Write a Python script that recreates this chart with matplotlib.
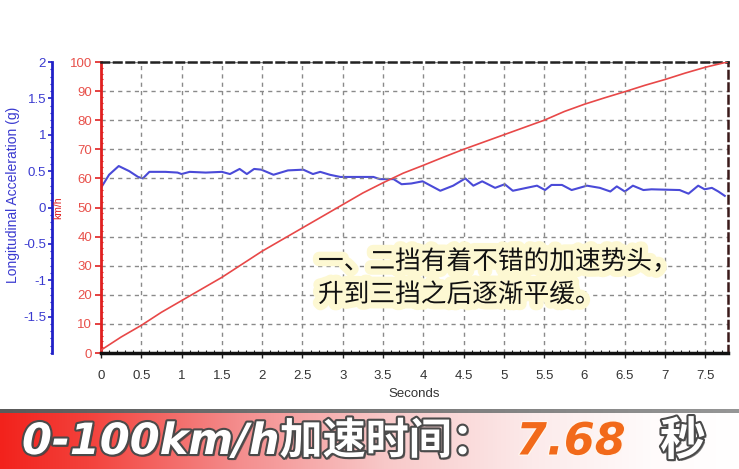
import numpy as np
import matplotlib
matplotlib.use("Agg")
import matplotlib.pyplot as plt
from matplotlib.ticker import MultipleLocator
import matplotlib.patheffects as pe

# ---------------- data ----------------
speed_t = [0.0, 0.25, 0.5, 0.75, 1.0, 1.25, 1.5, 1.75, 2.0, 2.25, 2.5, 2.75, 3.0,
           3.25, 3.5, 3.75, 4.0, 4.25, 4.5, 4.75, 5.0, 5.25, 5.5, 5.75, 6.0,
           6.25, 6.5, 6.75, 7.0, 7.25, 7.5, 7.77]
speed_kmh = [1.0, 5.5, 9.5, 14.0, 18.0, 22.0, 26.0, 30.5, 35.0, 39.0, 43.0, 47.0, 51.0,
             55.0, 58.5, 61.8, 64.5, 67.3, 70.0, 72.5, 75.0, 77.5, 80.0, 83.0, 85.5,
             87.7, 89.8, 92.0, 94.0, 96.2, 98.2, 100.0]

acc_t = [0.0, 0.1, 0.22, 0.35, 0.46, 0.52, 0.6, 0.8, 0.95, 1.0, 1.1, 1.3, 1.5, 1.6,
         1.72, 1.81, 1.9, 1.99, 2.14, 2.32, 2.51, 2.63, 2.72, 2.84, 2.97, 3.2, 3.38,
         3.46, 3.63, 3.73, 3.85, 3.99, 4.21, 4.37, 4.52, 4.62, 4.73, 4.89, 5.01, 5.11,
         5.28, 5.41, 5.51, 5.59, 5.72, 5.84, 6.03, 6.19, 6.32, 6.40, 6.50, 6.60, 6.73,
         6.83, 7.18, 7.29, 7.41, 7.49, 7.58, 7.66, 7.74]
acc_g = [0.27, 0.45, 0.57, 0.50, 0.42, 0.40, 0.49, 0.49, 0.48, 0.46, 0.49, 0.48, 0.49,
         0.46, 0.53, 0.46, 0.53, 0.52, 0.45, 0.51, 0.52, 0.46, 0.49, 0.45, 0.42, 0.42,
         0.42, 0.39, 0.39, 0.32, 0.33, 0.36, 0.23, 0.30, 0.40, 0.30, 0.36, 0.27, 0.32,
         0.23, 0.27, 0.30, 0.24, 0.31, 0.31, 0.24, 0.30, 0.27, 0.22, 0.29, 0.22, 0.30,
         0.24, 0.25, 0.24, 0.19, 0.30, 0.25, 0.27, 0.22, 0.16]

x_ticks = [0, 0.5, 1, 1.5, 2, 2.5, 3, 3.5, 4, 4.5, 5, 5.5, 6, 6.5, 7, 7.5]
x_ticklabels = ["0", "0.5", "1", "1.5", "2", "2.5", "3", "3.5", "4", "4.5",
                "5", "5.5", "6", "6.5", "7", "7.5"]
speed_ticks = [0, 10, 20, 30, 40, 50, 60, 70, 80, 90, 100]
acc_ticks = [-1.5, -1, -0.5, 0, 0.5, 1, 1.5, 2]
acc_ticklabels = ["-1.5", "-1", "-0.5", "0", "0.5", "1", "1.5", "2"]

note_lines = ["一、二挡有着不错的加速势头，", "升到三挡之后逐渐平缓。"]
banner_main = "0-100km/h加速时间："
banner_value = "7.68"
banner_unit = "秒"

# ---------------- figure ----------------
W, H = 739, 469
PX = 0.72  # points per pixel at 100 dpi
fig = plt.figure(figsize=(W / 100, H / 100), dpi=100)
fig.patch.set_facecolor("white")

L, R, T, B = 101, 728, 62, 353
ax = fig.add_axes([L / W, 1 - B / H, (R - L) / W, (B - T) / H])

RED = "#e02020"
REDTXT = "#e8504a"
BLUE = "#2020c8"
BLUELINE = "#4a4ad8"

ax.plot(speed_t, speed_kmh, color="#e84848", lw=1.2, zorder=5)
ax.set_xlim(0, 7.78)
ax.set_ylim(0, 100)
ax.set_xticks(x_ticks)
ax.set_xticklabels(x_ticklabels)
ax.set_yticks(speed_ticks)
ax.xaxis.set_minor_locator(MultipleLocator(0.1))
ax.grid(True, which="major", color="#8a8a8a", linestyle=(0, (3, 3)), lw=1.0)
ax.tick_params(axis="x", which="major", direction="out", length=5 * PX, width=1,
               colors="#222222", labelsize=9.5, pad=12 * PX, labelcolor="#333333")
ax.tick_params(axis="x", which="minor", direction="in", length=3 * PX, width=0.8,
               colors="#222222")
ax.tick_params(axis="y", which="major", direction="out", length=6 * PX, width=1.2,
               colors=RED, labelsize=9.5, pad=3 * PX, labelcolor=REDTXT)
ax.yaxis.set_minor_locator(MultipleLocator(2))
ax.tick_params(axis="y", which="minor", direction="in", length=2 * PX, width=0.8, colors=RED)
ax.spines["left"].set_color(RED)
ax.spines["left"].set_linewidth(2)
ax.spines["bottom"].set_color("#111111")
ax.spines["bottom"].set_linewidth(2.5)
ax.spines["top"].set_color("#222222")
ax.spines["top"].set_linewidth(1.8)
ax.spines["top"].set_linestyle((0, (3, 2)))
ax.spines["right"].set_color("#3a1a1a")
ax.spines["right"].set_linewidth(1.8)
ax.spines["right"].set_linestyle((0, (3, 2)))
ax.set_xlabel("Seconds", fontsize=9.5, color="#333333", labelpad=4)
for lab in ax.get_xticklabels() + ax.get_yticklabels():
    lab.set_family("Liberation Sans")
ax.xaxis.label.set_family("Liberation Sans")

# acceleration axis on the far left
ax2 = ax.twinx()
ax2.plot(acc_t, acc_g, color=BLUELINE, lw=1.5, zorder=4)
ax2.set_ylim(-2, 2)
ax2.yaxis.set_ticks_position("left")
ax2.yaxis.set_label_position("left")
ax2.spines["left"].set_position(("outward", 49 * PX))
ax2.spines["left"].set_color(BLUE)
ax2.spines["left"].set_linewidth(2)
for s in ["right", "top", "bottom"]:
    ax2.spines[s].set_visible(False)
ax2.set_yticks(acc_ticks)
ax2.set_yticklabels(acc_ticklabels)
ax2.yaxis.set_minor_locator(MultipleLocator(0.1))
ax2.tick_params(axis="y", which="major", direction="out", length=4 * PX, width=1.2,
                colors=BLUE, labelsize=9.5, pad=2 * PX, labelcolor="#3a3ad0")
ax2.tick_params(axis="y", which="minor", direction="out", length=2 * PX, width=0.8,
                colors=BLUE)
for lab in ax2.get_yticklabels():
    lab.set_family("Liberation Sans")
ax.set_zorder(ax2.get_zorder() + 1)
ax.patch.set_visible(False)

fig.text(13 / W, 1 - 195 / H, "Longitudinal Acceleration (g)", rotation=90,
         ha="center", va="center", fontsize=10, color="#3a3ad0",
         family="Liberation Sans")
fig.text(58 / W, 1 - 208 / H, "km/h", rotation=90, ha="center", va="center",
         fontsize=7.5, color=RED, family="Liberation Sans")

# note text with soft yellow glow
glow = [pe.withStroke(linewidth=9, foreground="#fdf8d2")]
fig.text(318 / W, 1 - 262 / H, note_lines[0], ha="left", va="center",
         fontsize=18.5, color="#111111", family=["Noto Sans CJK SC", "DejaVu Sans"],
         path_effects=glow, zorder=10)
fig.text(318 / W, 1 - 295 / H, note_lines[1], ha="left", va="center",
         fontsize=18.5, color="#111111", family=["Noto Sans CJK SC", "DejaVu Sans"],
         path_effects=glow, zorder=10)

# ---------------- banner ----------------
bax = fig.add_axes([0, 0, 1, 62 / H])
bax.set_axis_off()
xs = np.linspace(0, 1, 400)
stops = [0.0, 0.12, 0.32, 0.52, 0.72, 0.88, 1.0]
cols = np.array([[242, 34, 28], [243, 66, 60], [244, 140, 140], [248, 200, 200],
                 [252, 234, 234], [255, 251, 251], [255, 255, 255]]) / 255.0
grad = np.stack([np.interp(xs, stops, cols[:, i]) for i in range(3)], axis=-1)
img = np.repeat(grad[None, :, :], 50, axis=0)
bax.imshow(img, extent=[0, 1, 0, 56 / 62], aspect="auto")
gray = np.stack([np.interp(xs, [0, 1], [90 / 255, 150 / 255])] * 3, axis=-1)
bax.imshow(np.repeat(gray[None, :, :], 4, axis=0), extent=[0, 1, 56 / 62, 60 / 62],
           aspect="auto")
bax.set_xlim(0, 1)
bax.set_ylim(0, 1)

outline = [pe.withSimplePatchShadow(offset=(1.5, -1.5), shadow_rgbFace="#333333", alpha=0.6),
           pe.withStroke(linewidth=3, foreground="#4a4a4a")]
fam = ["DejaVu Sans", "Noto Sans CJK SC"]
ty = 1 - 442 / H
fig.text(22 / W, ty, banner_main, ha="left", va="center", fontsize=31,
         fontweight="bold", style="italic", color="white", family=fam,
         path_effects=outline, zorder=20)
fig.text(516 / W, ty, banner_value, ha="left", va="center", fontsize=32,
         fontweight="bold", style="italic", color="#f26a1a", family=fam,
         path_effects=[pe.withStroke(linewidth=2, foreground="#fff5ee")], zorder=20)
fig.text(660 / W, ty, banner_unit, ha="left", va="center", fontsize=33,
         fontweight="bold", color="white", family=["Noto Sans CJK SC", "DejaVu Sans"],
         path_effects=outline, zorder=20)

fig.savefig("out.png", dpi=100)
